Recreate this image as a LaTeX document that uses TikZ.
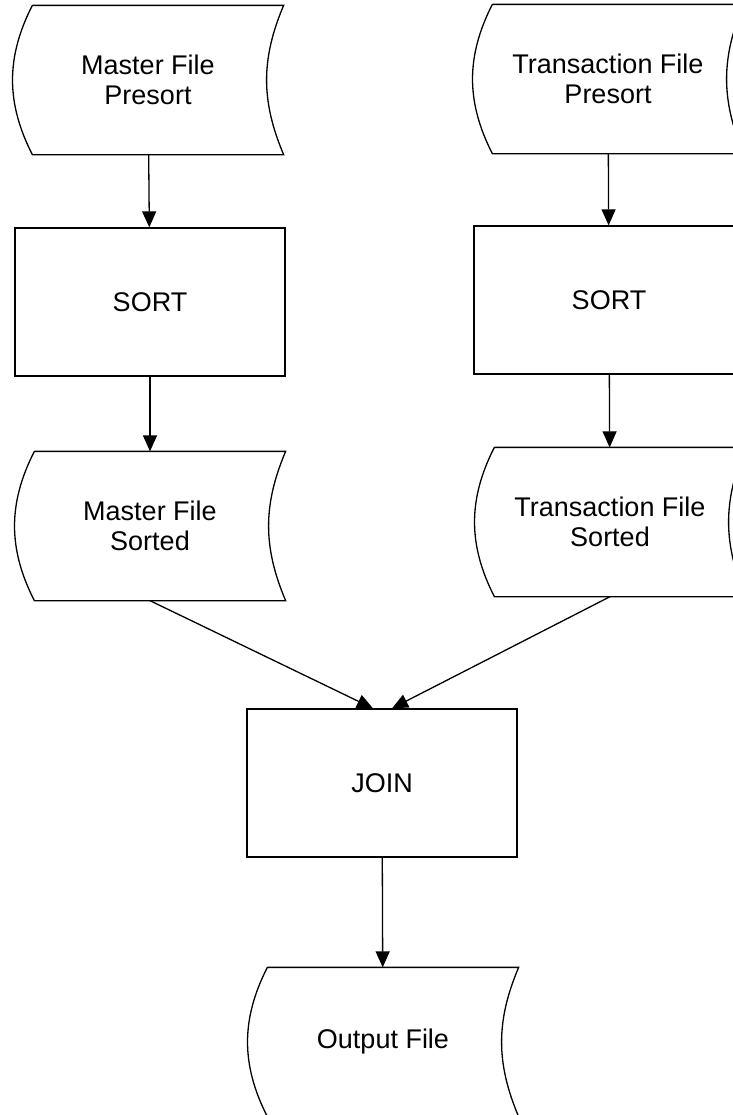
\documentclass[tikz,border=0pt]{standalone}
\usepackage{fontspec}
\setmainfont{Liberation Sans}
\usetikzlibrary{arrows.meta}

\begin{document}
\begin{tikzpicture}[x=0.5pt, y=0.5pt, line width=0.65pt, font=\fontsize{13.5}{15}\selectfont,
    box/.style={draw, minimum width=135pt, minimum height=74pt, inner sep=0pt},
    filebox/.style={minimum width=135pt, minimum height=74pt, inner sep=0pt, align=center},
    >={Triangle[width=7pt, length=8pt]}]
    \useasboundingbox (0,0) rectangle (733,-1115);
    \clip (0,0) rectangle (733,-1115);

    \node[filebox] (mfp) at (148,-80) {Master File\\Presort};
    \node[box] (msort) at (150,-302) {SORT};
    \node[filebox] (mfs) at (150,-526) {Master File\\Sorted};

    \node[filebox] (tfp) at (608,-79) {Transaction File\\Presort};
    \node[box] (tsort) at (609,-300) {SORT};
    \node[filebox] (tfs) at (610,-522) {Transaction File\\Sorted};

    \node[box] (join) at (382,-783) {JOIN};
    \node[filebox] (out) at (383,-1042) {Output File};

    % file outlines: left side bulges out, right side bows in
    \foreach \n in {mfp,mfs,tfp,tfs,out}
        \draw ([xshift=10pt]\n.north west) -- (\n.north east) to[bend right=23] (\n.south east)
            -- ([xshift=10pt]\n.south west) to[bend left=27] ([xshift=10pt]\n.north west);

    \draw[->] (mfp) -- (msort);
    \draw[->] (msort) -- (mfs);
    \draw[->] (tfp) -- (tsort);
    \draw[->] (tsort) -- (tfs);
    \draw[->] (mfs.south) -- ([xshift=-4.5pt]join.north);
    \draw[->] (tfs.south) -- ([xshift=5pt]join.north);
    \draw[->] (join) -- (out);
\end{tikzpicture}
\end{document}
